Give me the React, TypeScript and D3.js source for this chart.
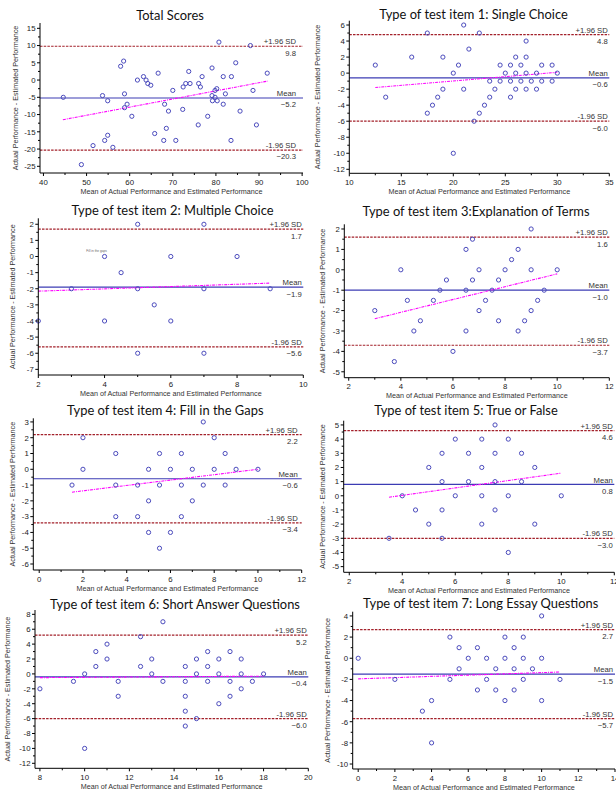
import React from "react";
import * as d3 from "d3";

// ---- data ----
const titles = [
  "Total Scores",
  "Type of test item 1: Single Choice",
  "Type of test item 2: Multiple Choice",
  "Type of test item 3:Explanation of Terms",
  "Type of test item 4: Fill in the Gaps",
  "Type of test item 5: True or False",
  "Type of test item 6: Short Answer Questions",
  "Type of test item 7: Long Essay Questions",
];

type Pt = [number, number];

const totalScores: Pt[] = [
  [44.6, -5], [48.8, -24.5], [51.5, -19], [53.7, -4.5], [54.2, -17.5], [54.9, -6], [54.9, -16],
  [56.1, -19.5], [57.9, 4], [58.6, 5.5], [58.8, -4], [58.8, -8], [59.4, -7], [60.5, -10.5],
  [61.8, 0], [63.2, 1], [63.8, 0], [64.2, -1], [64.9, -1.5], [65.8, -15.5], [66.6, 2],
  [67.9, -17.5], [68.1, -7], [68.5, -14], [69.0, -9], [70.0, -3], [70.7, -17.5], [72.3, -8.5],
  [72.4, -2], [73.0, -1], [73.7, 2.5], [74.0, -1], [75.9, -13], [76.0, -1], [76.4, -2],
  [76.8, 1], [78.1, -10.5], [79.1, 3.5], [79.1, -4.5], [79.2, -6], [79.8, -3], [79.8, -5],
  [80.2, -2.5], [80.3, -6], [80.7, 11], [81.7, 1], [81.7, -7], [82.2, -4], [83.6, 1],
  [83.5, -17.5], [84.6, 5], [85.6, -9], [88.0, 10], [88.6, -3], [89.4, -13], [91.9, 2],
];

const singleChoice: Pt[] = [
  [12.5, 1], [13.5, -3], [16, 2], [17.5, 5], [17.5, -5], [18, -4], [18.5, -3], [19, 2], [19, -2],
  [20, 0], [20, -10], [20.5, 1], [21, 6], [21, -2], [21.5, 3], [22, -6], [22.5, 5], [22.5, -5],
  [23, -4], [23.5, -1], [23.5, -3], [24, -2], [24.5, 1], [24.5, -1], [25, 0], [25.5, 1],
  [25.5, -1], [25.5, -3], [26, 2], [26, 0], [26, -2], [26.5, 1], [26.5, -1], [27, 4], [27, 2],
  [27, 0], [27, -2], [27.5, -1], [28, 0], [28, -2], [28.5, 1], [28.5, -1], [29.5, 1],
  [29.5, -1], [30, 0],
];

const multipleChoice: Pt[] = [
  [2, -4], [3, -2], [4, 0], [4, -4], [4.5, -1], [5, 2], [5, -2], [5, -6], [5.5, -3], [6, 0],
  [6, -4], [7, 2], [7, -2], [7, -6], [8, 0], [9, -2],
];

const explanationTerms: Pt[] = [
  [3, -2], [3.75, -4.5], [4, 0], [4.25, -1.5], [4.5, -3], [4.75, -2.5], [5.25, -1.5], [5.5, -1],
  [5.75, -0.5], [6, -4], [6.5, 1], [6.5, -1], [6.5, -3], [6.75, 1.5], [6.75, -0.5], [7, 0],
  [7, -2], [7.25, -1.5], [7.5, -1], [7.75, -0.5], [7.75, -2.5], [8, 0], [8.25, 0.5], [8.5, 1],
  [8.5, -3], [8.75, -2.5], [9, 2], [9, 0], [9, -2], [9.25, -1.5], [9.5, -1], [10, 0],
];

const fillGaps: Pt[] = [
  [1.5, -1], [2, 2], [2, 0], [3.5, 1], [3.5, -1], [3.5, -3], [4.5, -1], [4.5, -3], [5, 0],
  [5, -2], [5, -4], [5.5, 1], [5.5, -1], [5.5, -5], [6, 0], [6, -4], [6.5, 1], [6.5, -1],
  [6.5, -3], [7, 0], [7, -2], [7.5, 3], [7.5, -1], [8, 2], [8, 0], [8.5, 1], [8.5, -1], [9, 0],
  [10, 0],
];

const trueFalse: Pt[] = [
  [3.5, -3], [4, 0], [4.5, -1], [5, 2], [5, -2], [5.5, 3], [5.5, 1], [5.5, -1], [5.5, -3],
  [6, 4], [6, 0], [6.5, 3], [6.5, 1], [7, 4], [7, 2], [7, 0], [7, -2], [7.5, 5], [7.5, 3],
  [7.5, 1], [7.5, -1], [8, 4], [8, 0], [8, -4], [8.5, 3], [8.5, 1], [9, 2], [9, -2], [10, 0],
];

const shortAnswer: Pt[] = [
  [8, -2], [9.5, -1], [10, 0], [10, -10], [10.5, 3], [10.5, 1], [11, 4], [11, 2], [11.5, -1],
  [11.5, -3], [12.5, 5], [12.5, 1], [13, 2], [13, 0], [13.5, 7], [13.5, -1], [14.5, 1],
  [14.5, -1], [14.5, -3], [14.5, -5], [14.5, -7], [15, 2], [15, 0], [15, -6], [15.5, 3],
  [15.5, 1], [15.5, -1], [16, 2], [16, 0], [16, -4], [16.5, 3], [16.5, -1], [16.5, -3], [17, 2],
  [17, 0], [17, -2], [17.5, -1], [18, 0],
];

const longEssay: Pt[] = [
  [0, 0], [2, -2], [3.5, -5], [4, -4], [4, -8], [5, 2], [5, -2], [5.5, 1], [5.5, -1], [6, 0],
  [6.5, 1], [6.5, -3], [7, 0], [7, -2], [7.5, -1], [7.5, -3], [8, 2], [8, 0], [8, -4], [8.5, 1],
  [8.5, -1], [8.5, -3], [9, 2], [9, 0], [9, -2], [9.5, -1], [10, 4], [10, 0], [10, -4], [11, -2],
];

const series = [totalScores, singleChoice, multipleChoice, explanationTerms, fillGaps, trueFalse, shortAnswer, longEssay];

const meanDiff = [-5.2, -0.6, -1.9, -1.0, -0.6, 0.8, -0.4, -1.5];
const upperLoA = [9.8, 4.8, 1.7, 1.6, 2.2, 4.6, 5.2, 2.7];
const lowerLoA = [-20.3, -6.0, -5.6, -3.7, -3.4, -3.0, -6.0, -5.7];

// regression line ends: [x0, y0, x1, y1]
const regression = [
  [44.5, -11.5, 92, -0.3],
  [12.5, -1.8, 30, 0.1],
  [2, -2.15, 9, -1.65],
  [3, -2.4, 10, -0.2],
  [1.5, -1.45, 10, 0],
  [3.5, -0.1, 10, 1.6],
  [8, -0.5, 18, -0.3],
  [0, -1.95, 11, -1.3],
];

const xTicks = [
  [40, 50, 60, 70, 80, 90, 100],
  [10, 15, 20, 25, 30, 35],
  [2, 4, 6, 8, 10],
  [2, 4, 6, 8, 10, 12],
  [0, 2, 4, 6, 8, 10, 12],
  [2, 4, 6, 8, 10, 12],
  [8, 10, 12, 14, 16, 18, 20],
  [0, 2, 4, 6, 8, 10, 12, 14],
];
const yTicks = [
  [-25, -20, -15, -10, -5, 0, 5, 10, 15],
  [-12, -10, -8, -6, -4, -2, 0, 2, 4, 6],
  [-7, -6, -5, -4, -3, -2, -1, 0, 1, 2],
  [-5, -4, -3, -2, -1, 0, 1, 2],
  [-6, -5, -4, -3, -2, -1, 0, 1, 2, 3],
  [-5, -4, -3, -2, -1, 0, 1, 2, 3, 4, 5],
  [-12, -10, -8, -6, -4, -2, 0, 2, 4, 6, 8],
  [-10, -8, -6, -4, -2, 0, 2, 4],
];

const notes = [{ panel: 2, x: 3.45, y: 0.3, text: "Fill in the gaps" }];

const xLabel = "Mean of Actual Performance and Estimated Performance";
const yLabel = "Actual Performance - Estimated Performance";

// ---- layout (pixel frames of each plot) ----
const frames = [
  { l: 40, r: 303, t: 23, b: 173, xd: [39.2, 100.2], yd: [-26.94, 16.54], tx: 170, ty: 20, yl: 15, inset: 7 },
  { l: 349.3, r: 609.3, t: 20.7, b: 173.3, xd: [10, 35], yd: [-12.5, 6.54], tx: 473.5, ty: 19, yl: 317.7, inset: 1.5 },
  { l: 38.3, r: 303.3, t: 218.3, b: 375, xd: [2, 10], yd: [-7.35, 2.37], tx: 172.5, ty: 215, yl: 12.7, inset: 1.5 },
  { l: 344.3, r: 609.3, t: 224.3, b: 377.7, xd: [1.83, 12], yd: [-5.29, 2.23], tx: 476, ty: 215.7, yl: 322.7, inset: 1.5 },
  { l: 33.3, r: 301.7, t: 418.3, b: 570, xd: [-0.27, 12], yd: [-6.38, 3.23], tx: 165.3, ty: 415, yl: 12.7, inset: 4 },
  { l: 343.7, r: 614.3, t: 420.7, b: 572.3, xd: [1.79, 12], yd: [-5.4, 5.3], tx: 466, ty: 415, yl: 322.7, inset: 1.5 },
  { l: 35, r: 308.3, t: 610, b: 768.3, xd: [7.78, 20], yd: [-12.67, 8.58], tx: 175, ty: 609, yl: 7.3, inset: 1.5 },
  { l: 352.7, r: 615, t: 611.7, b: 769, xd: [-0.3, 14], yd: [-10.47, 4.4], tx: 480.7, ty: 608.3, yl: 327.7, inset: 2 },
];

const sans = "'Liberation Sans', Arial, sans-serif";
const titleFont = "Lato, 'Open Sans', sans-serif";
const dotColor = "#4b4bbd";
const meanColor = "#3c3cb4";
const sdColor = "#a3202a";

function minorTicks(major: number[], domain: number[]) {
  const step = major[1] - major[0];
  const out: number[] = [];
  const first = major[0] - step / 2;
  for (let v = first; v <= domain[1] + 1e-9; v += step) {
    if (v >= domain[0] && v <= domain[1]) out.push(v);
  }
  return out;
}

function Panel({ i }: { i: number }) {
  const f = frames[i];
  const x = d3.scaleLinear().domain(f.xd).range([f.l, f.r]);
  const y = d3.scaleLinear().domain(f.yd).range([f.b, f.t]);
  const reg = regression[i];
  const fmt = d3.format(".1f");
  const rx = f.r - f.inset;

  const refLines = [
    { v: upperLoA[i], top: "+1.96 SD", color: sdColor, dash: "2.5,1.2" },
    { v: meanDiff[i], top: "Mean", color: meanColor, dash: undefined },
    { v: lowerLoA[i], top: "-1.96 SD", color: sdColor, dash: "2.5,1.2" },
  ];

  return (
    <g>
      <text x={f.tx} y={f.ty} textAnchor="middle" fontFamily={titleFont} fontSize={12.9} fill="#111">
        {titles[i]}
      </text>

      {/* reference lines */}
      {refLines.map((d, k) => (
        <g key={k}>
          <line x1={f.l} x2={f.r} y1={y(d.v)} y2={y(d.v)} stroke={d.color} strokeWidth={1.2} strokeDasharray={d.dash} />
          <text x={rx} y={y(d.v) - 1.8} textAnchor="end" fontFamily={sans} fontSize={7.7} fill="#333">
            {d.top}
          </text>
          <text x={rx} y={y(d.v) + 9.4} textAnchor="end" fontFamily={sans} fontSize={7.7} fill="#333">
            {fmt(d.v)}
          </text>
        </g>
      ))}

      {/* regression line */}
      <line
        x1={x(reg[0])} y1={y(reg[1])} x2={x(reg[2])} y2={y(reg[3])}
        stroke="#ff00ff" strokeWidth={1.1} strokeDasharray="3,1,1,1"
      />

      {/* points */}
      {series[i].map((p, k) => (
        <circle key={k} cx={x(p[0])} cy={y(p[1])} r={2.1} fill="none" stroke={dotColor} strokeWidth={1} />
      ))}

      {notes.filter((n) => n.panel === i).map((n, k) => (
        <text key={k} x={x(n.x)} y={y(n.y)} fontFamily={sans} fontSize={3.2} fill="#666">
          {n.text}
        </text>
      ))}

      {/* axes */}
      <line x1={f.l} x2={f.r} y1={f.b} y2={f.b} stroke="#000" strokeWidth={1} />
      <line x1={f.l} x2={f.l} y1={f.t} y2={f.b} stroke="#000" strokeWidth={1} />
      {xTicks[i].map((v) => (
        <g key={"x" + v}>
          <line x1={x(v)} x2={x(v)} y1={f.b} y2={f.b + 3} stroke="#000" />
          <text x={x(v)} y={f.b + 11.5} textAnchor="middle" fontFamily={sans} fontSize={7.8} fill="#222">
            {v}
          </text>
        </g>
      ))}
      {minorTicks(xTicks[i], f.xd).map((v) => (
        <line key={"xm" + v} x1={x(v)} x2={x(v)} y1={f.b} y2={f.b + 2} stroke="#000" />
      ))}
      {yTicks[i].map((v) => (
        <g key={"y" + v}>
          <line x1={f.l - 3} x2={f.l} y1={y(v)} y2={y(v)} stroke="#000" />
          <text x={f.l - 4.5} y={y(v) + 2.8} textAnchor="end" fontFamily={sans} fontSize={7.8} fill="#222">
            {v}
          </text>
        </g>
      ))}
      {minorTicks(yTicks[i], f.yd).map((v) => (
        <line key={"ym" + v} x1={f.l - 2} x2={f.l} y1={y(v)} y2={y(v)} stroke="#000" />
      ))}

      <text x={(f.l + f.r) / 2} y={f.b + 20.5} textAnchor="middle" fontFamily={sans} fontSize={7.2} fill="#333">
        {xLabel}
      </text>
      <text
        transform={`translate(${f.yl},${(f.t + f.b) / 2}) rotate(-90)`}
        textAnchor="middle" dy="0.35em" fontFamily={sans} fontSize={7.2} fill="#333"
      >
        {yLabel}
      </text>
    </g>
  );
}

export default function App() {
  return (
    <svg width={616} height={793} style={{ position: "absolute", left: 0, top: 0, background: "#fff" }}>
      <rect width={616} height={793} fill="#fff" />
      {frames.map((_, i) => (
        <Panel key={i} i={i} />
      ))}
    </svg>
  );
}
